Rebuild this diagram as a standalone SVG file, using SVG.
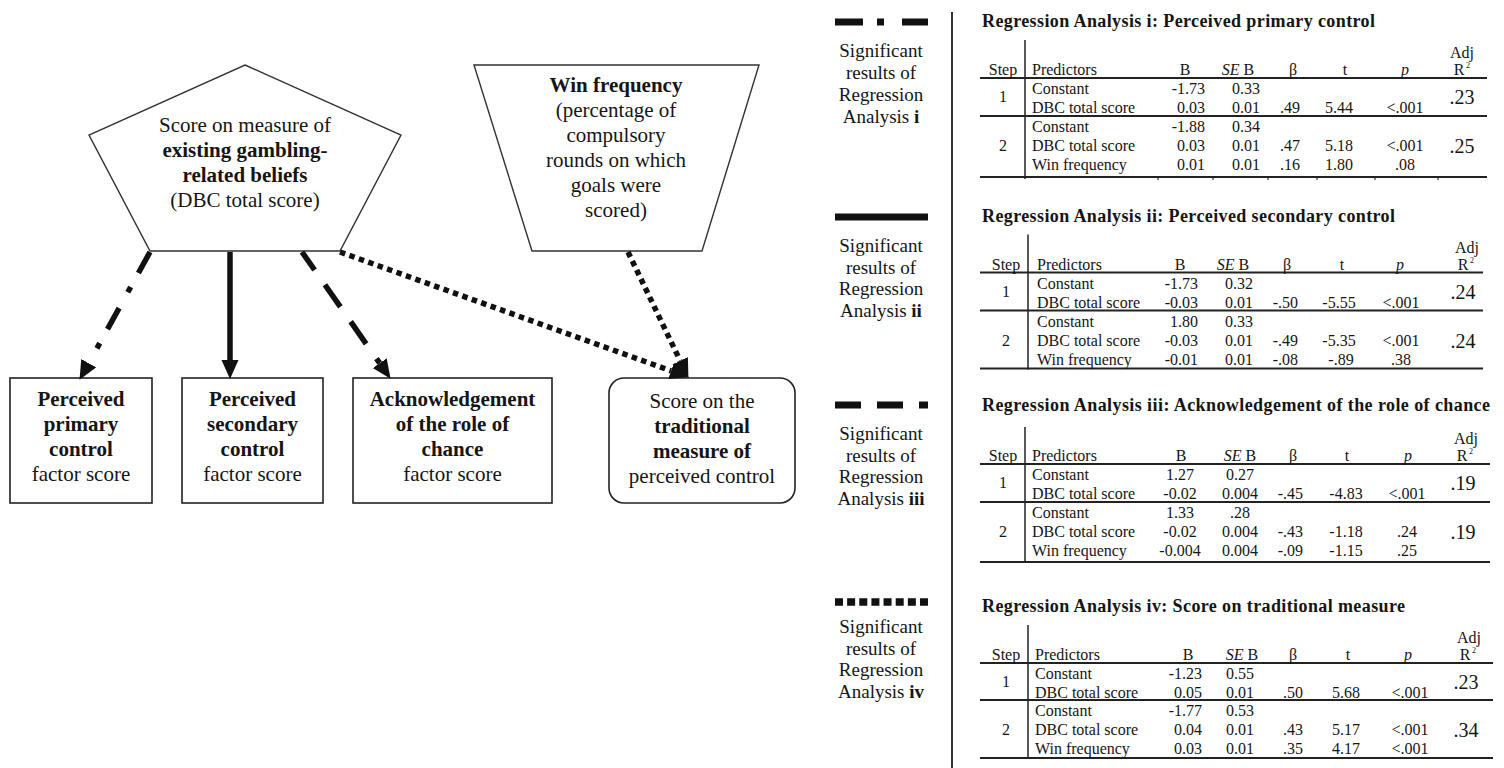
<svg xmlns="http://www.w3.org/2000/svg" width="1504" height="768" viewBox="0 0 1504 768">
<style>
text{font-family:"Liberation Serif","Times New Roman",serif;fill:#151515}
.d{font-size:21px;text-anchor:middle}
.b{font-weight:bold}
.lg{font-size:19px;text-anchor:middle}
.tb{font-size:16px}
.tt{font-size:18px;font-weight:bold}
.m{text-anchor:middle}
.e{text-anchor:end}
.adj{font-size:20px;text-anchor:middle}
.sup{font-size:8px}
.it{font-style:italic}
.shape{fill:#fff;stroke:#333;stroke-width:1.4}
.box{fill:#fff;stroke:#222;stroke-width:1.6}
.hl{stroke:#222;stroke-width:2}
.vl{stroke:#222;stroke-width:1.5}
.con{fill:none;stroke:#111;stroke-width:5.5;stroke-linecap:butt}
.leg{fill:#111}
</style>
<defs>
<marker id="ah" markerUnits="userSpaceOnUse" markerWidth="20" markerHeight="18" viewBox="0 0 20 18" refX="0" refY="8.5" orient="auto">
<path d="M0,0 L19,8.5 L0,17 z" fill="#111"/>
</marker>
</defs>

<g id="dbc">
<polygon class="shape" points="245,65 401,135 340,251 150,251 89,135"/>
<text class="d" x="245" y="132">Score on measure of</text>
<text class="d b" x="245" y="157">existing gambling-</text>
<text class="d b" x="245" y="182">related beliefs</text>
<text class="d" x="245" y="207">(DBC total score)</text>
</g>

<g id="winfreq">
<polygon class="shape" points="474,65 759,65 702,251 532,251"/>
<text class="d b" x="616" y="92">Win frequency</text>
<text class="d" x="616" y="117">(percentage of</text>
<text class="d" x="616" y="142">compulsory</text>
<text class="d" x="616" y="167">rounds on which</text>
<text class="d" x="616" y="192">goals were</text>
<text class="d" x="616" y="217">scored)</text>
</g>

<g id="primary">
<rect class="box" x="10" y="378" width="142" height="125"/>
<text class="d b" x="81" y="406">Perceived</text>
<text class="d b" x="81" y="431">primary</text>
<text class="d b" x="81" y="456">control</text>
<text class="d" x="81" y="481">factor score</text>
</g>

<g id="secondary">
<rect class="box" x="182" y="378" width="141" height="125"/>
<text class="d b" x="252.5" y="406">Perceived</text>
<text class="d b" x="252.5" y="431">secondary</text>
<text class="d b" x="252.5" y="456">control</text>
<text class="d" x="252.5" y="481">factor score</text>
</g>

<g id="chance">
<rect class="box" x="353" y="378" width="199" height="125"/>
<text class="d b" x="452.5" y="406">Acknowledgement</text>
<text class="d b" x="452.5" y="431">of the role of</text>
<text class="d b" x="452.5" y="456">chance</text>
<text class="d" x="452.5" y="481">factor score</text>
</g>

<g id="traditional">
<rect class="box" x="609" y="378" width="186" height="125" rx="15" ry="15"/>
<text class="d" x="702" y="408">Score on the</text>
<text class="d b" x="702" y="433">traditional</text>
<text class="d b" x="702" y="458">measure of</text>
<text class="d" x="702" y="483">perceived control</text>
</g>

<g id="connectors">
<path class="con" d="M150,252 L88.7,363.2" stroke-dasharray="24 16 6 18" marker-end="url(#ah)"/>
<path class="con" d="M230,252 L230,360" marker-end="url(#ah)"/>
<path class="con" d="M302,252 L379.7,363.2" stroke-dasharray="27 18" stroke-dashoffset="5" marker-end="url(#ah)"/>
<path class="con" d="M340,252 L671.1,370.9" stroke-dasharray="5.5 4.5" marker-end="url(#ah)"/>
<path class="con" d="M628,252 L680.2,360.8" stroke-dasharray="5.5 4.5" marker-end="url(#ah)"/>
</g>

<g id="legend">
<rect class="leg" x="835" y="18.5" width="28" height="7"/>
<rect class="leg" x="877" y="18.5" width="7" height="7"/>
<rect class="leg" x="902" y="18.5" width="26" height="7"/>
<text class="lg" x="881" y="57">Significant</text>
<text class="lg" x="881" y="79">results of</text>
<text class="lg" x="881" y="101">Regression</text>
<text class="lg" x="881" y="123">Analysis <tspan class="b">i</tspan></text>

<rect class="leg" x="835" y="213.5" width="93" height="7"/>
<text class="lg" x="881" y="252">Significant</text>
<text class="lg" x="881" y="273.5">results of</text>
<text class="lg" x="881" y="295">Regression</text>
<text class="lg" x="881" y="316.5">Analysis <tspan class="b">ii</tspan></text>

<rect class="leg" x="835" y="401.5" width="26" height="7"/>
<rect class="leg" x="877" y="401.5" width="26" height="7"/>
<rect class="leg" x="919" y="401.5" width="9" height="7"/>
<text class="lg" x="881" y="440">Significant</text>
<text class="lg" x="881" y="461.5">results of</text>
<text class="lg" x="881" y="483">Regression</text>
<text class="lg" x="881" y="504.5">Analysis <tspan class="b">iii</tspan></text>

<line x1="835" y1="602" x2="928" y2="602" stroke="#111" stroke-width="7.5" stroke-dasharray="8 4.14"/>
<text class="lg" x="881" y="633">Significant</text>
<text class="lg" x="881" y="654.5">results of</text>
<text class="lg" x="881" y="676">Regression</text>
<text class="lg" x="881" y="697.5">Analysis <tspan class="b">iv</tspan></text>
</g>

<line x1="952" y1="12" x2="952" y2="768" stroke="#333" stroke-width="2"/>

<g id="table1">
<text class="tt" x="982" y="27" textLength="393" lengthAdjust="spacing">Regression Analysis i: Perceived primary control</text>
<line class="vl" x1="1025" y1="40" x2="1025" y2="179"/>
<line class="hl" x1="980" y1="78" x2="1487" y2="78"/>
<line class="hl" x1="980" y1="116" x2="1487" y2="116"/>
<line class="hl" x1="980" y1="177" x2="1487" y2="177"/>
<g stroke="#333" stroke-width="1.2">
<line x1="1158" y1="178" x2="1158" y2="180"/><line x1="1213" y1="178" x2="1213" y2="180"/><line x1="1268" y1="178" x2="1268" y2="180"/><line x1="1317" y1="178" x2="1317" y2="180"/><line x1="1375" y1="178" x2="1375" y2="180"/><line x1="1438" y1="178" x2="1438" y2="180"/>
</g>
<text class="tb m" x="1003" y="75">Step</text>
<text class="tb" x="1032" y="75">Predictors</text>
<text class="tb m" x="1185" y="75">B</text>
<text class="tb m" x="1238" y="75"><tspan class="it">SE</tspan> B</text>
<text class="tb m" x="1293" y="75">β</text>
<text class="tb m" x="1345" y="75">t</text>
<text class="tb m it" x="1405" y="75">p</text>
<text class="tb m" x="1462" y="58">Adj</text>
<text class="tb m" x="1459" y="75">R</text><text class="sup" x="1466" y="68">2</text>
<text class="tb" x="1032" y="94">Constant</text>
<text class="tb" x="1032" y="113">DBC total score</text>
<text class="tb" x="1032" y="132">Constant</text>
<text class="tb" x="1032" y="151">DBC total score</text>
<text class="tb" x="1032" y="170">Win frequency</text>
<text class="tb m" x="1003" y="102">1</text>
<text class="tb m" x="1003" y="151">2</text>
<text class="tb e" x="1205" y="94">-1.73</text>
<text class="tb e" x="1205" y="113">0.03</text>
<text class="tb e" x="1205" y="132">-1.88</text>
<text class="tb e" x="1205" y="151">0.03</text>
<text class="tb e" x="1205" y="170">0.01</text>
<text class="tb m" x="1246" y="94">0.33</text>
<text class="tb m" x="1246" y="113">0.01</text>
<text class="tb m" x="1246" y="132">0.34</text>
<text class="tb m" x="1246" y="151">0.01</text>
<text class="tb m" x="1246" y="170">0.01</text>
<text class="tb e" x="1300" y="113">.49</text>
<text class="tb e" x="1300" y="151">.47</text>
<text class="tb e" x="1300" y="170">.16</text>
<text class="tb m" x="1339" y="113">5.44</text>
<text class="tb m" x="1339" y="151">5.18</text>
<text class="tb m" x="1339" y="170">1.80</text>
<text class="tb m" x="1405" y="113">&lt;.001</text>
<text class="tb m" x="1405" y="151">&lt;.001</text>
<text class="tb m" x="1405" y="170">.08</text>
<text class="adj" x="1462" y="104">.23</text>
<text class="adj" x="1462" y="153">.25</text>
</g>

<g id="table2" transform="translate(0,194.5)">
<text class="tt" x="982" y="27" textLength="413" lengthAdjust="spacing">Regression Analysis ii: Perceived secondary control</text>
<line class="vl" x1="1028" y1="40" x2="1028" y2="175"/>
<line class="hl" x1="980" y1="78" x2="1483" y2="78"/>
<line class="hl" x1="980" y1="116" x2="1483" y2="116"/>
<line class="hl" x1="980" y1="174" x2="1483" y2="174"/>
<text class="tb m" x="1006" y="75">Step</text>
<text class="tb" x="1037" y="75">Predictors</text>
<text class="tb m" x="1180" y="75">B</text>
<text class="tb m" x="1233" y="75"><tspan class="it">SE</tspan> B</text>
<text class="tb m" x="1287" y="75">β</text>
<text class="tb m" x="1342" y="75">t</text>
<text class="tb m it" x="1400" y="75">p</text>
<text class="tb m" x="1467" y="58">Adj</text>
<text class="tb m" x="1463" y="75">R</text><text class="sup" x="1470" y="68">2</text>
<text class="tb" x="1037" y="94">Constant</text>
<text class="tb" x="1037" y="113">DBC total score</text>
<text class="tb" x="1037" y="132">Constant</text>
<text class="tb" x="1037" y="151">DBC total score</text>
<text class="tb" x="1037" y="170">Win frequency</text>
<text class="tb m" x="1006" y="102">1</text>
<text class="tb m" x="1006" y="151">2</text>
<text class="tb e" x="1198" y="94">-1.73</text>
<text class="tb e" x="1198" y="113">-0.03</text>
<text class="tb e" x="1198" y="132">1.80</text>
<text class="tb e" x="1198" y="151">-0.03</text>
<text class="tb e" x="1198" y="170">-0.01</text>
<text class="tb m" x="1239" y="94">0.32</text>
<text class="tb m" x="1239" y="113">0.01</text>
<text class="tb m" x="1239" y="132">0.33</text>
<text class="tb m" x="1239" y="151">0.01</text>
<text class="tb m" x="1239" y="170">0.01</text>
<text class="tb e" x="1298" y="113">-.50</text>
<text class="tb e" x="1298" y="151">-.49</text>
<text class="tb e" x="1298" y="170">-.08</text>
<text class="tb m" x="1339" y="113">-5.55</text>
<text class="tb m" x="1339" y="151">-5.35</text>
<text class="tb m" x="1341" y="170">-.89</text>
<text class="tb m" x="1401" y="113">&lt;.001</text>
<text class="tb m" x="1401" y="151">&lt;.001</text>
<text class="tb m" x="1401" y="170">.38</text>
<text class="adj" x="1463" y="104">.24</text>
<text class="adj" x="1463" y="153">.24</text>
</g>

<g id="table3" transform="translate(0,386)">
<text class="tt" x="982" y="25" textLength="508" lengthAdjust="spacing">Regression Analysis iii: Acknowledgement of the role of chance</text>
<line class="vl" x1="1025" y1="41" x2="1025" y2="177"/>
<line class="hl" x1="980" y1="78" x2="1490" y2="78"/>
<line class="hl" x1="980" y1="116" x2="1490" y2="116"/>
<line class="hl" x1="980" y1="176" x2="1490" y2="176"/>
<text class="tb m" x="1003" y="75">Step</text>
<text class="tb" x="1032" y="75">Predictors</text>
<text class="tb m" x="1181" y="75">B</text>
<text class="tb m" x="1240" y="75"><tspan class="it">SE</tspan> B</text>
<text class="tb m" x="1293" y="75">β</text>
<text class="tb m" x="1347" y="75">t</text>
<text class="tb m it" x="1408" y="75">p</text>
<text class="tb m" x="1466" y="58">Adj</text>
<text class="tb m" x="1462" y="75">R</text><text class="sup" x="1469" y="68">2</text>
<text class="tb" x="1032" y="94">Constant</text>
<text class="tb" x="1032" y="113">DBC total score</text>
<text class="tb" x="1032" y="132">Constant</text>
<text class="tb" x="1032" y="151">DBC total score</text>
<text class="tb" x="1032" y="170">Win frequency</text>
<text class="tb m" x="1003" y="102">1</text>
<text class="tb m" x="1003" y="151">2</text>
<text class="tb m" x="1180" y="94">1.27</text>
<text class="tb m" x="1180" y="113">-0.02</text>
<text class="tb m" x="1180" y="132">1.33</text>
<text class="tb m" x="1180" y="151">-0.02</text>
<text class="tb m" x="1180" y="170">-0.004</text>
<text class="tb m" x="1240" y="94">0.27</text>
<text class="tb m" x="1240" y="113">0.004</text>
<text class="tb m" x="1240" y="132">.28</text>
<text class="tb m" x="1240" y="151">0.004</text>
<text class="tb m" x="1240" y="170">0.004</text>
<text class="tb e" x="1303" y="113">-.45</text>
<text class="tb e" x="1303" y="151">-.43</text>
<text class="tb e" x="1303" y="170">-.09</text>
<text class="tb m" x="1346" y="113">-4.83</text>
<text class="tb m" x="1346" y="151">-1.18</text>
<text class="tb m" x="1346" y="170">-1.15</text>
<text class="tb m" x="1407" y="113">&lt;.001</text>
<text class="tb m" x="1407" y="151">.24</text>
<text class="tb m" x="1407" y="170">.25</text>
<text class="adj" x="1463" y="104">.19</text>
<text class="adj" x="1463" y="153">.19</text>
</g>

<g id="table4" transform="translate(0,584)">
<text class="tt" x="982" y="28" textLength="423" lengthAdjust="spacing">Regression Analysis iv: Score on traditional measure</text>
<line class="vl" x1="1028" y1="41" x2="1028" y2="175"/>
<line class="hl" x1="980" y1="79" x2="1493" y2="79"/>
<line class="hl" x1="980" y1="116" x2="1493" y2="116"/>
<line class="hl" x1="980" y1="174" x2="1493" y2="174"/>
<text class="tb m" x="1006" y="76">Step</text>
<text class="tb" x="1035" y="76">Predictors</text>
<text class="tb m" x="1188" y="76">B</text>
<text class="tb m" x="1242" y="76"><tspan class="it">SE</tspan> B</text>
<text class="tb m" x="1293" y="76">β</text>
<text class="tb m" x="1348" y="76">t</text>
<text class="tb m it" x="1408" y="76">p</text>
<text class="tb m" x="1469" y="59">Adj</text>
<text class="tb m" x="1465" y="76">R</text><text class="sup" x="1472" y="69">2</text>
<text class="tb" x="1035" y="95">Constant</text>
<text class="tb" x="1035" y="114">DBC total score</text>
<text class="tb" x="1035" y="132">Constant</text>
<text class="tb" x="1035" y="151">DBC total score</text>
<text class="tb" x="1035" y="170">Win frequency</text>
<text class="tb m" x="1006" y="103">1</text>
<text class="tb m" x="1006" y="151">2</text>
<text class="tb e" x="1202" y="95">-1.23</text>
<text class="tb e" x="1202" y="114">0.05</text>
<text class="tb e" x="1202" y="132">-1.77</text>
<text class="tb e" x="1202" y="151">0.04</text>
<text class="tb e" x="1202" y="170">0.03</text>
<text class="tb m" x="1240" y="95">0.55</text>
<text class="tb m" x="1240" y="114">0.01</text>
<text class="tb m" x="1240" y="132">0.53</text>
<text class="tb m" x="1240" y="151">0.01</text>
<text class="tb m" x="1240" y="170">0.01</text>
<text class="tb e" x="1303" y="114">.50</text>
<text class="tb e" x="1303" y="151">.43</text>
<text class="tb e" x="1303" y="170">.35</text>
<text class="tb m" x="1346" y="114">5.68</text>
<text class="tb m" x="1346" y="151">5.17</text>
<text class="tb m" x="1346" y="170">4.17</text>
<text class="tb m" x="1410" y="114">&lt;.001</text>
<text class="tb m" x="1410" y="151">&lt;.001</text>
<text class="tb m" x="1410" y="170">&lt;.001</text>
<text class="adj" x="1466" y="105">.23</text>
<text class="adj" x="1466" y="153">.34</text>
</g>
</svg>
